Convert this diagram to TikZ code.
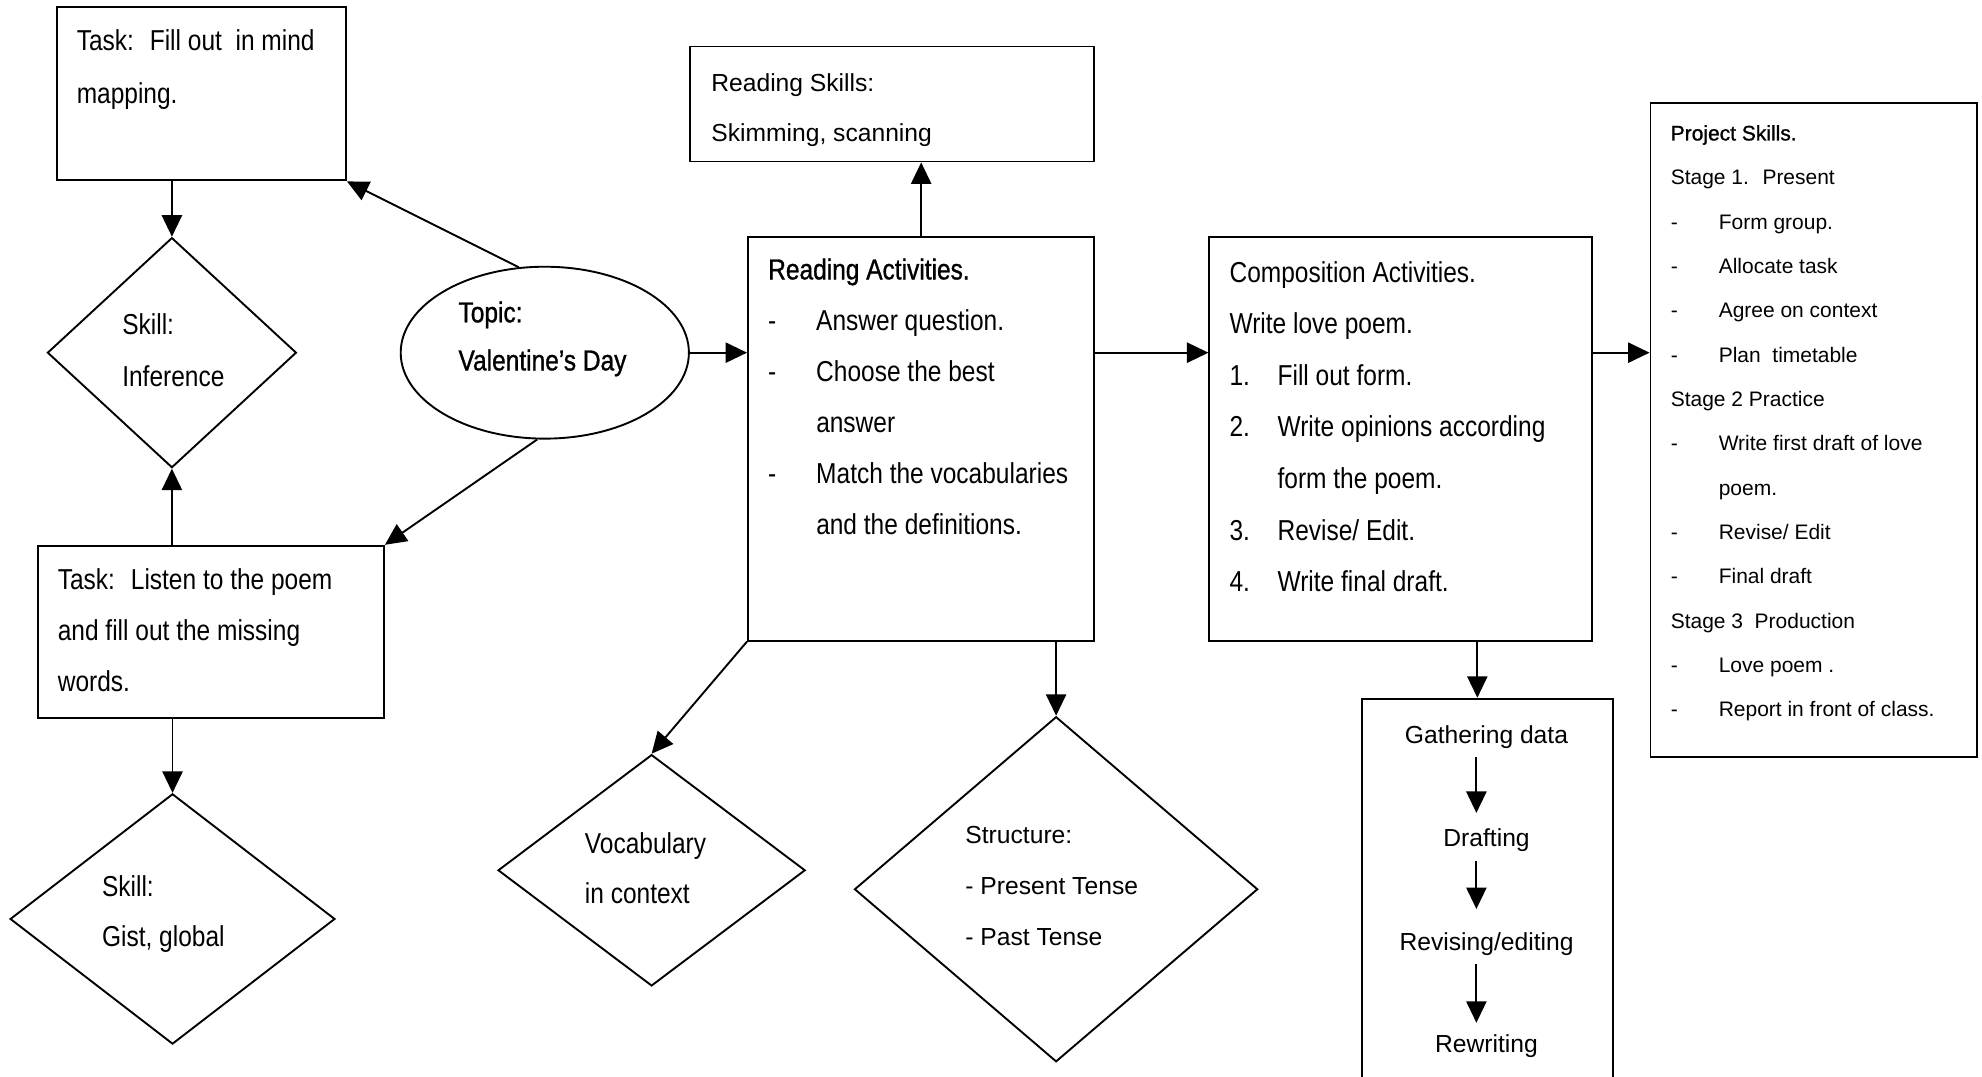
\documentclass[tikz,border=0pt]{standalone}
\usepackage{fontspec}
\setmainfont{Liberation Sans}
\newfontfamily\narrowfont[FakeStretch=0.85]{Liberation Sans}
\newfontfamily\narrowbold[FakeStretch=0.85,FakeBold=1]{Liberation Sans}
\newfontfamily\widebold[FakeBold=1]{Liberation Sans}
\usetikzlibrary{arrows.meta, shapes.geometric, positioning}

\newcommand{\itemlead}[1]{\makebox[38pt][l]{#1}}

\begin{document}
\begin{tikzpicture}[x=1pt, y=-1pt, line width=1.5pt,
    box/.style={draw, rectangle, anchor=north west, inner sep=0pt},
    dia/.style={draw, diamond, inner sep=0pt},
    ntxt/.style={anchor=base west, align=left, inner sep=0pt, font=\narrowfont\fontsize{22.8pt}{#1}\selectfont},
    ntxt/.default=40.5pt,
    wtxt/.style={anchor=base west, align=left, inner sep=0pt, font=\fontsize{19.5pt}{#1}\selectfont},
    wtxt/.default=40.5pt,
    arr/.style={-{Triangle[length=17pt, width=16pt]}}]
            \clip (0, 0) rectangle (1568, 852);

            % boxes
            \node[box, minimum width=229pt, minimum height=137pt] (mind) at (44, 5) {};
            \node[box, minimum width=274pt, minimum height=136pt] (listen) at (29, 431) {};
            \node[box, minimum width=320pt, minimum height=91pt] (rskill) at (545, 36) {};
            \node[box, minimum width=274pt, minimum height=319pt] (ract) at (591, 187) {};
            \node[box, minimum width=303pt, minimum height=319pt] (comp) at (956, 187) {};
            \node[box, minimum width=258pt, minimum height=517pt] (proj) at (1305, 81) {};
            \node[box, minimum width=198pt, minimum height=400pt] (gather) at (1077, 552) {};

            % diamonds and topic
            \node[dia, minimum width=197pt, minimum height=182pt] (infd) at (136, 279) {};
            \node[dia, minimum width=257pt, minimum height=198pt] (gistd) at (136.5, 727) {};
            \node[dia, minimum width=243pt, minimum height=183pt] (vocd) at (515.5, 688.5) {};
            \node[dia, minimum width=319pt, minimum height=273pt] (strd) at (835.5, 703.5) {};
            \node[draw, ellipse, inner sep=0pt, minimum width=228pt, minimum height=136pt] (topic) at (431, 279) {};

            % texts (placed at the baseline of their last line)
            \node[ntxt=42pt] (mindtxt) at (60, 82) {Task:~ Fill out~ in mind\\mapping.};
            \node[ntxt=41pt] (inftxt) at (96, 306) {Skill:\\Inference};
            \node[ntxt=38pt, font=\narrowbold\fontsize{22.8pt}{38pt}\selectfont] (topictxt) at (362, 293) {Topic:\\Valentine’s Day};
            \node[ntxt] (listentxt) at (45, 547) {Task:~ Listen to the poem\\and fill out the missing\\words.};
            \node[ntxt=40pt] (gisttxt) at (80, 749) {Skill:\\Gist, global};
            \node[wtxt=40pt] (rskilltxt) at (562, 112) {Reading Skills:\\Skimming, scanning};
            \node[ntxt=40.4pt] (racttxt) at (607, 423) {{\narrowbold Reading Activities.}\\
                \itemlead{-}Answer question.\\
                \itemlead{-}Choose the best\\
                \hspace*{38pt}answer\\
                \itemlead{-}Match the vocabularies\\
                \hspace*{38pt}and the definitions.};
            \node[ntxt=40pt] (voctxt) at (462, 715) {Vocabulary\\in context};
            \node[wtxt] (strtxt) at (763, 748) {Structure:\\- Present Tense\\- Past Tense};
            \node[ntxt=40.8pt] (comptxt) at (972, 468) {Composition Activities.\\
                Write love poem.\\
                \itemlead{1.}Fill out form.\\
                \itemlead{2.}Write opinions according\\
                \hspace*{38pt}form the poem.\\
                \itemlead{3.}Revise/ Edit.\\
                \itemlead{4.}Write final draft.};
            \node[anchor=base west, align=left, inner sep=0pt, font=\fontsize{16.6pt}{35.07pt}\selectfont] (projtxt) at (1321, 567) {{\widebold Project Skills.}\\
                Stage 1.~ Present\\
                \itemlead{-}Form group.\\
                \itemlead{-}Allocate task\\
                \itemlead{-}Agree on context\\
                \itemlead{-}Plan~ timetable\\
                Stage 2 Practice\\
                \itemlead{-}Write first draft of love\\
                \hspace*{38pt}poem.\\
                \itemlead{-}Revise/ Edit\\
                \itemlead{-}Final draft\\
                Stage 3~ Production\\
                \itemlead{-}Love poem .\\
                \itemlead{-}Report in front of class.};
            \node[anchor=base, inner sep=6pt, font=\fontsize{19.5pt}{24pt}\selectfont] (gdata) at (1176, 588) {Gathering data};
            \node[anchor=base, inner sep=6pt, font=\fontsize{19.5pt}{24pt}\selectfont] (draft) at (1176, 670) {Drafting};
            \node[anchor=base, inner sep=6pt, font=\fontsize{19.5pt}{24pt}\selectfont] (revise) at (1176, 752) {Revising/editing};
            \node[anchor=base, inner sep=6pt, font=\fontsize{19.5pt}{24pt}\selectfont] (rewrite) at (1176, 833) {Rewriting};

            % connectors
            \draw[arr] (topic.107) -- (mind.south east);
            \draw[arr] (topic.265) -- (listen.north east);
            \draw[arr] (mind.south -| infd.north) -- (infd.north);
            \draw[arr] (listen.north -| infd.south) -- (infd.south);
            \draw[arr] (listen.south -| gistd.north) -- (gistd.north);
            \draw[arr] (topic.east) -- (topic.east -| ract.west);
            \draw[arr] (ract.north) -- (ract.north |- rskill.south);
            \draw[arr] (ract.south west) -- (vocd.north);
            \draw[arr] (strd.north |- ract.south) -- (strd.north);
            \draw[arr] (ract.east |- topic.east) -- (comp.west |- topic.east);
            \draw[arr] (comp.east |- topic.east) -- (proj.west |- topic.east);
            \draw[arr] ([xshift=-8pt]gather.north |- comp.south) -- ([xshift=-8pt]gather.north);
            \draw[arr, shorten >=6pt] ([xshift=-8pt]gdata.south) -- ([xshift=-8pt]draft.north);
            \draw[arr, shorten >=12pt] ([xshift=-8pt]draft.south) -- ([xshift=-8pt]revise.north);
            \draw[arr, shorten >=3pt] ([xshift=-8pt]revise.south) -- ([xshift=-8pt]rewrite.north);
        \end{tikzpicture}
\end{document}
